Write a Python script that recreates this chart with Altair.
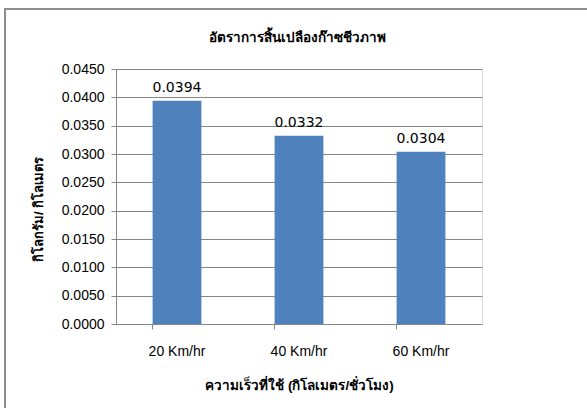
import altair as alt
import pandas as pd

chart_title = "อัตราการสิ้นเปลืองก๊าซชีวภาพ"
categories = ["20 Km/hr", "40 Km/hr", "60 Km/hr"]
values = [0.0394, 0.0332, 0.0304]
y_ticks = [0.0, 0.005, 0.01, 0.015, 0.02, 0.025, 0.03, 0.035, 0.04, 0.045]

df = pd.DataFrame({"speed": categories, "rate": values})

FONT = "DejaVu Sans"
W, H = 366, 255

x_enc = alt.X("speed:N", sort=categories,
              scale=alt.Scale(paddingInner=0.6, paddingOuter=0.3),
              axis=alt.Axis(title="ความเร็วที่ใช้ (กิโลเมตร/ชั่วโมง)", labelAngle=0,
                            labelFontSize=14, labelPadding=15, labelColor="black",
                            titleFontSize=13.5, titleFontWeight="bold", titleColor="black",
                            titlePadding=20, bandPosition=0, ticks=True, tickSize=5,
                            tickColor="#868686", domainColor="#868686", grid=False))
y_enc = alt.Y("rate:Q", scale=alt.Scale(domain=[0, 0.045], nice=False),
              axis=alt.Axis(title="กิโลกรัม/ กิโลเมตร", values=y_ticks, format=".4f",
                            labelFontSize=14, labelColor="black", labelPadding=7,
                            labelOverlap=False,
                            tickSize=5, tickColor="#868686", domainColor="#868686",
                            gridColor="#868686", gridWidth=1,
                            titleFontSize=13, titleFontWeight="bold", titleColor="black",
                            titlePadding=16, titleY=140))

bars = alt.Chart(df).mark_bar(color="#4F81BD").encode(x=x_enc, y=y_enc)
labels = alt.Chart(df).mark_text(baseline="bottom", dy=-6, fontSize=14, font=FONT,
                                 color="black").encode(
    x=x_enc, y=y_enc,
    text=alt.Text("rate:Q", format=".4f"))

title_mark = alt.Chart(pd.DataFrame({"t": [chart_title]})).mark_text(
    fontSize=13.5, fontWeight="bold", font=FONT, color="black",
    align="center", baseline="middle").encode(
    x=alt.value(181), y=alt.value(-31), text="t:N")

frame = alt.Chart(df).mark_rect(fill=None, stroke="#8c8c8c", strokeWidth=1.5).encode(
    x=alt.value(-111), x2=alt.value(520), y=alt.value(-60), y2=alt.value(420))

chart = alt.layer(bars, labels, title_mark, frame).properties(
    width=W, height=H,
    padding={"left": 116, "top": 69, "right": 105, "bottom": 84},
    autosize=alt.AutoSizeParams(type="none"),
).configure_view(stroke=None).configure_axis(labelFont=FONT, titleFont=FONT
).configure(background="white")

chart.save("out.html", embed_options={"renderer": "svg", "actions": False})
